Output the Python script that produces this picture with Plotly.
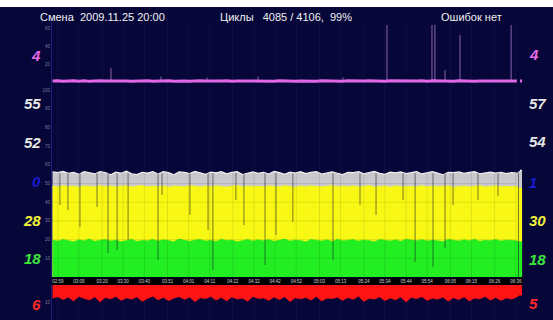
import plotly.graph_objects as go

# ---------------- data ----------------
tick_minutes = [0, 10, 21, 31, 41, 52, 62, 72, 83, 93, 103, 113, 124, 134, 145,
                155, 165, 175, 186, 196, 207, 217]
tick_labels = ["02:59", "03:09", "03:20", "03:30", "03:40", "03:51", "04:01", "04:11",
               "04:22", "04:32", "04:42", "04:52", "05:03", "05:13", "05:24", "05:34",
               "05:44", "05:54", "06:05", "06:15", "06:26", "06:36"]

# sample times (minutes from 02:59), last column is the current cycle
sample_t = [-2.5 + 2.5 * i for i in range(89)] + [218.3, 219.0, 220.0]

gray_top = [56.2, 55.8, 56.5, 55.4, 56.0, 54.9, 56.3, 55.7, 55.1, 56.4,
            55.9, 54.6, 56.1, 55.5, 56.6, 55.2, 54.8, 56.0, 55.6, 56.3,
            55.0, 56.4, 55.8, 54.7, 56.2, 55.9, 55.3, 56.5, 55.6, 54.9,
            56.1, 55.7, 56.3, 55.2, 55.9, 56.4, 54.8, 55.6, 56.2, 55.4,
            56.0, 55.1, 56.5, 55.8, 54.9, 56.1, 55.6, 56.3, 55.3, 55.9,
            56.4, 55.0, 55.7, 56.2, 55.5, 54.8, 56.0, 55.8, 56.3, 55.2,
            55.9, 56.5, 55.4, 54.9, 56.1, 55.7, 56.2, 55.3, 55.8, 56.4,
            55.1, 55.9, 56.3, 55.6, 54.7, 56.0, 55.8, 56.2, 55.4, 55.9,
            56.3, 55.2, 55.7, 56.1, 55.5, 56.0, 55.3, 55.8, 55.6,
            None, 57.0, 57.0]

yellow_top = [48.6, 48.2, 48.9, 48.4, 48.7, 48.1, 48.8, 48.5, 48.3, 48.9,
              48.4, 48.7, 48.2, 48.6, 48.8, 48.3, 48.5, 48.9, 48.2, 48.6,
              48.4, 48.8, 48.1, 48.7, 48.5, 48.3, 48.9, 48.6, 48.2, 48.7,
              48.4, 48.8, 48.5, 48.1, 48.6, 48.9, 48.3, 48.7, 48.4, 48.6,
              48.2, 48.8, 48.5, 48.3, 48.9, 48.6, 48.1, 48.7, 48.4, 48.8,
              48.5, 48.2, 48.6, 48.9, 48.3, 48.7, 48.4, 48.8, 48.2, 48.5,
              48.9, 48.3, 48.6, 48.7, 48.1, 48.8, 48.4, 48.6, 48.5, 48.3,
              48.9, 48.2, 48.7, 48.4, 48.6, 48.8, 48.1, 48.5, 48.7, 48.3,
              48.6, 48.9, 48.2, 48.5, 48.8, 48.4, 48.6, 48.3, 48.7,
              None, 47.6, 47.6]

green_top = [19.8, 19.2, 20.1, 19.5, 18.9, 19.9, 19.4, 20.3, 19.1, 19.7,
             20.0, 19.3, 19.8, 18.8, 19.6, 20.2, 19.0, 19.7, 19.4, 20.1,
             19.2, 19.9, 19.5, 18.9, 20.3, 19.6, 19.1, 19.8, 20.0, 19.3,
             19.7, 19.0, 20.2, 19.5, 19.8, 18.9, 19.6, 20.1, 19.3, 19.9,
             19.4, 20.0, 19.1, 19.7, 20.3, 19.2, 19.8, 19.5, 18.8, 20.1,
             19.6, 19.3, 19.9, 19.0, 20.2, 19.4, 19.7, 20.0, 19.2, 19.8,
             19.5, 18.9, 20.1, 19.6, 19.3, 19.9, 19.1, 20.2, 19.7, 19.4,
             20.0, 19.2, 19.8, 19.5, 19.0, 20.1, 19.6, 19.3, 19.9, 19.4,
             20.2, 19.1, 19.7, 19.5, 20.0, 19.3, 19.8, 19.6, 19.4,
             None, 19.0, 19.0]

red_depth = [7.6, 6.7, 8.4, 7.0, 9.2, 6.5, 7.7, 8.6, 6.9, 9.7,
             7.2, 8.0, 6.6, 8.9, 7.4, 8.2, 6.8, 9.4, 7.7, 6.4,
             8.5, 7.1, 9.0, 7.5, 6.7, 8.3, 7.0, 9.6, 7.3, 7.9,
             6.6, 8.7, 7.2, 9.1, 6.8, 8.1, 7.6, 9.3, 6.5, 7.8,
             7.4, 8.8, 6.9, 8.4, 6.7, 9.5, 7.3, 8.0, 7.1, 8.7,
             6.6, 9.2, 7.5, 7.8, 7.0, 8.9, 7.2, 8.3, 6.4, 9.4,
             7.7, 8.1, 6.8, 9.0, 7.4, 8.5, 6.9, 9.7, 7.1, 7.9,
             6.7, 8.8, 7.6, 8.2, 7.0, 9.3, 7.3, 8.4, 6.8, 9.1,
             7.5, 8.0, 6.6, 8.7, 7.2, 8.9, 7.4, 8.1, 7.0,
             None, 5.9, 5.9]

magenta_val = [1.1, 1.4, 0.8, 1.2, 1.5, 0.9, 1.3, 0.7, 1.1, 1.4,
               1.0, 1.2, 0.8, 1.5, 1.1, 0.9, 1.3, 1.0, 1.4, 0.8,
               1.2, 1.1, 1.5, 0.9, 1.3, 1.0, 0.7, 1.2, 1.4, 1.1,
               0.9, 1.3, 1.0, 1.5, 0.8, 1.2, 1.1, 1.4, 0.9, 1.3,
               1.0, 1.2, 0.8, 1.4, 1.1, 1.5, 0.9, 1.2, 1.0, 1.3,
               0.8, 1.4, 1.1, 1.0, 1.3, 0.9, 1.5, 1.2, 0.8, 1.1,
               1.4, 1.0, 1.2, 0.9, 1.3, 1.1, 1.5, 0.8, 1.2, 1.0,
               1.4, 0.9, 1.3, 1.1, 1.0, 1.2, 0.8, 1.4, 1.1, 1.3,
               0.9, 1.2, 1.5, 1.0, 1.1, 1.3, 0.8, 1.2, 1.0,
               None, 1.1, 1.1]

# dips of the main series (time, lowest value reached)
drop_t = [1.0, 4.8, 10.5, 18.6, 23.8, 28.1, 33.3, 47.5, 49.4, 62.6, 71.2, 73.5,
          84.4, 88.2, 98.2, 103.4, 111.4, 130.4, 143.2, 150.8, 163.6, 169.3,
          177.8, 183.5, 187.3, 199.1, 208.6, 218.3]
drop_depth = [38.5, 35.8, 26.7, 37.4, 12.8, 14.4, 19.8, 9.1, 43.9, 33.2, 25.1, 3.7,
              41.2, 27.8, 6.4, 22.5, 29.4, 9.1, 38.5, 33.2, 41.2, 8.0,
              5.3, 15.5, 38.5, 41.2, 43.3, 0.0]

# magenta spikes (time, peak value)
spike_t = [25.2, 48.9, 70.7, 94.9, 135.1, 156.0, 177.3, 178.7, 183.5, 190.6, 214.8]
spike_v = [15.6, 6.0, 5.0, 6.0, 5.0, 63.3, 63.3, 63.3, 13.3, 52.2, 63.3]

header_texts = ["Смена\u00a0\u00a02009.11.25 20:00",
                "Циклы\u00a0\u00a0\u00a04085 / 4106,\u00a0\u00a099%",
                "Ошибок нет"]
left_labels = ["4", "55", "52", "0", "28", "18", "6"]
right_labels = ["4", "57", "54", "1", "30", "18", "5"]

main_ticks = [10, 20, 30, 40, 50, 60, 70, 80, 90, 100]
magenta_ticks = [20, 40, 60]
red_ticks = [10]

# ---------------- layout helpers ----------------
W, H = 553, 320
ML, MT = 10, 7
PW, PH = W - ML, H - MT


def px_x(px):
    return (px - ML) / PW


def px_y(py):
    return 1 - (py - MT) / PH


NAVY = "#060638"
XDOM = [px_x(52), px_x(522.5)]
XR = [-2.75, 220.2]

fig = go.Figure()

# main stacked panel
fig.add_trace(go.Scatter(x=sample_t, y=gray_top, mode="lines", fill="tozeroy",
                         fillcolor="#c8c8cd", line=dict(color="#f0f0f0", width=1.2),
                         connectgaps=False, xaxis="x", yaxis="y", hoverinfo="skip"))
fig.add_trace(go.Scatter(x=sample_t, y=yellow_top, mode="lines", fill="tozeroy",
                         fillcolor="#f8f814", line=dict(color="#f8f814", width=0.5),
                         connectgaps=False, xaxis="x", yaxis="y", hoverinfo="skip"))
fig.add_trace(go.Scatter(x=sample_t, y=green_top, mode="lines", fill="tozeroy",
                         fillcolor="#22ee22", line=dict(color="#22ee22", width=0.5),
                         connectgaps=False, xaxis="x", yaxis="y", hoverinfo="skip"))

# faint grid over the fills
gx, gy = [], []
for tv in tick_minutes:
    gx += [tv, tv, None]
    gy += [0, 56, None]
for hv in [10, 20, 30, 40, 50]:
    gx += [sample_t[0] - 0.25, sample_t[88], None]
    gy += [hv, hv, None]
fig.add_trace(go.Scatter(x=gx, y=gy, mode="lines", line=dict(color="rgba(0,0,0,0.09)", width=1),
                         xaxis="x", yaxis="y", hoverinfo="skip"))

# dips
dx, dy = [], []
for tv, dv in zip(drop_t, drop_depth):
    dx += [tv, tv, None]
    dy += [55.5, dv, None]
fig.add_trace(go.Scatter(x=dx, y=dy, mode="lines", line=dict(color="rgba(20,20,40,0.55)", width=1),
                         xaxis="x", yaxis="y", hoverinfo="skip"))

# magenta panel
sx, sy = [], []
for tv, sv in zip(spike_t, spike_v):
    sx += [tv, tv, None]
    sy += [1.0, sv, None]
fig.add_trace(go.Scatter(x=sx, y=sy, mode="lines", line=dict(color="rgba(200,140,230,0.7)", width=1),
                         xaxis="x2", yaxis="y2", hoverinfo="skip"))
fig.add_trace(go.Scatter(x=sample_t, y=magenta_val, mode="lines",
                         line=dict(color="#e068e8", width=3), connectgaps=False,
                         xaxis="x2", yaxis="y2", hoverinfo="skip"))

# red panel (hanging down)
fig.add_trace(go.Scatter(x=sample_t, y=red_depth, mode="lines", fill="tozeroy",
                         fillcolor="#ff1414", line=dict(color="#ff1414", width=0.5),
                         connectgaps=False, xaxis="x3", yaxis="y3", hoverinfo="skip"))

tiny = dict(size=4.5, color="#7a7a98", family="Liberation Sans, Arial, sans-serif")
common_x = dict(domain=XDOM, range=XR, showgrid=True, gridcolor="#0d0d43", gridwidth=1,
                zeroline=False, showline=False, tickvals=tick_minutes, ticks="", fixedrange=True)
common_y = dict(showgrid=False, zeroline=False, showline=True, linecolor="#1c1c80", linewidth=1,
                ticks="", tickfont=tiny, fixedrange=True)

shapes = [
    dict(type="rect", xref="paper", yref="paper", x0=-0.1, x1=1.1, y0=-0.1, y1=1.0,
         fillcolor=NAVY, line=dict(width=0), layer="below"),
    dict(type="rect", xref="paper", yref="paper", x0=XDOM[0], x1=XDOM[1],
         y0=px_y(285), y1=px_y(277.5), fillcolor="#000000", line=dict(width=0), layer="below"),
]

annotations = []
header_px = [38, 218, 439]
for txt, hx in zip(header_texts, header_px):
    annotations.append(dict(text=txt, x=px_x(hx), y=px_y(17), xref="paper", yref="paper",
                            xanchor="left", yanchor="middle", showarrow=False,
                            font=dict(size=11, color="#f2f2f2",
                                      family="Liberation Sans, Arial, sans-serif")))

label_colors = ["#e868e8", "#e6e6e6", "#e6e6e6", "#1a1ad0", "#f2f23c", "#3ee63e", "#ff2a2a"]
left_py = [55, 103.5, 142.5, 181, 220, 258.5, 304]
right_py = [54, 103.5, 142, 182, 220, 259, 303]
for txt, col, py in zip(left_labels, label_colors, left_py):
    annotations.append(dict(text="<b><i>%s</i></b>" % txt, x=px_x(43), y=px_y(py),
                            xref="paper", yref="paper", xanchor="right", yanchor="middle",
                            showarrow=False,
                            font=dict(size=15, color=col, family="Liberation Sans, Arial, sans-serif")))
for txt, col, py in zip(right_labels, label_colors, right_py):
    annotations.append(dict(text="<b><i>%s</i></b>" % txt, x=px_x(527), y=px_y(py),
                            xref="paper", yref="paper", xanchor="left", yanchor="middle",
                            showarrow=False,
                            font=dict(size=15, color=col, family="Liberation Sans, Arial, sans-serif")))

fig.update_layout(
    width=W, height=H,
    margin=dict(l=ML, r=0, t=MT, b=0, pad=0),
    paper_bgcolor="#ffffff", plot_bgcolor=NAVY,
    showlegend=False, template="none",
    font=dict(family="Liberation Sans, Arial, sans-serif"),
    xaxis=dict(**common_x, anchor="y", ticktext=tick_labels, showticklabels=True,
               tickfont=dict(size=4.5, color="#cfcfcf", family="Liberation Sans, Arial, sans-serif")),
    xaxis2=dict(**common_x, anchor="y2", showticklabels=False),
    xaxis3=dict(**common_x, anchor="y3", showticklabels=False),
    yaxis=dict(**common_y, anchor="x", domain=[px_y(277), px_y(85)], range=[0, 102.67],
               tickvals=main_ticks),
    yaxis2=dict(**common_y, anchor="x2", domain=[px_y(84), px_y(22)], range=[-2.22, 66.67],
                tickvals=magenta_ticks),
    yaxis3=dict(**common_y, anchor="x3", domain=[0, px_y(285)], range=[20, 0],
                tickvals=red_ticks),
    shapes=shapes,
    annotations=annotations,
)

fig.write_html("out.html")
